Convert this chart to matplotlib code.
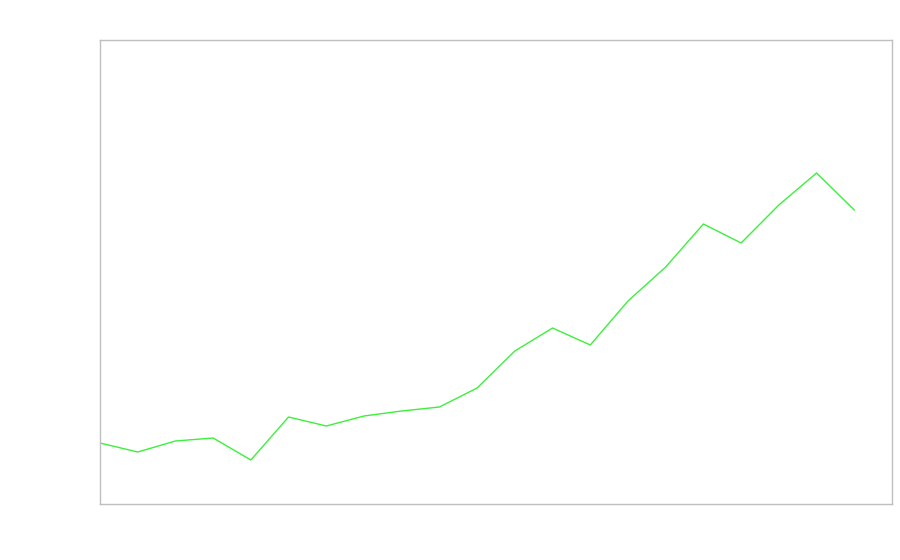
import matplotlib
matplotlib.use('Agg')
import matplotlib.pyplot as plt
import numpy as np

# series (arbitrary units, axis 0..464)
steps = list(range(21))
values = [61, 52, 63, 66, 44, 87, 78, 88, 93, 97, 116,
          153, 176, 159, 203, 237, 280, 261, 299, 331, 294]

fig = plt.figure(figsize=(9, 5.6), dpi=100)
ax = fig.add_axes([100 / 900, 56 / 560, 792 / 900, 464 / 560])

ax.plot(steps, values, color='#3cf03c', linewidth=1.0)

ax.set_xlim(0, 21)
ax.set_ylim(0, 464)
ax.set_xticks([])
ax.set_yticks([])
for spine in ax.spines.values():
    spine.set_color('#bfbfbf')
    spine.set_linewidth(1.0)

fig.savefig('out.png', dpi=100)
